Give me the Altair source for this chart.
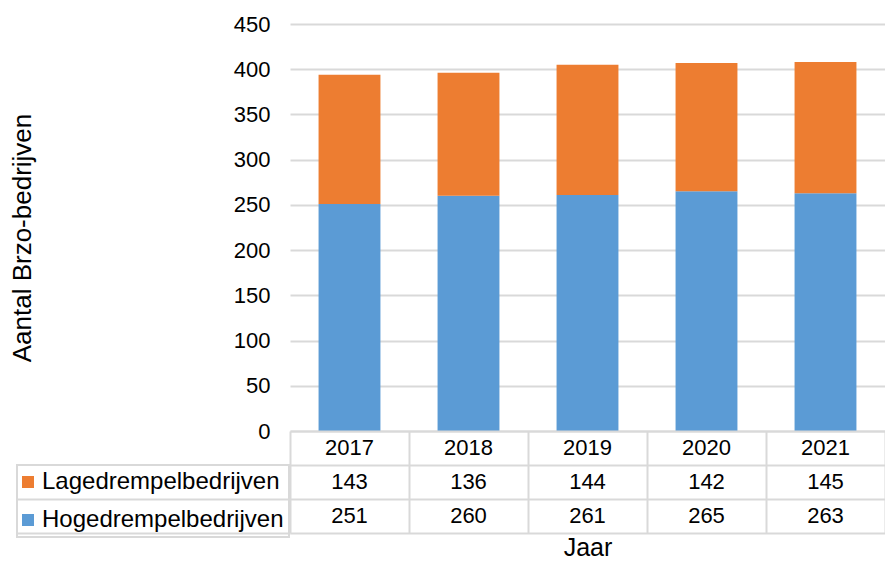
import altair as alt
import pandas as pd

# ---- data ----
years = ["2017", "2018", "2019", "2020", "2021"]
series_low = "Lagedrempelbedrijven"
series_high = "Hogedrempelbedrijven"
low_values = [143, 136, 144, 142, 145]
high_values = [251, 260, 261, 265, 263]
y_ticks = [0, 50, 100, 150, 200, 250, 300, 350, 400, 450]
row_header = "Jaar"
y_title = "Aantal Brzo-bedrijven"
x_title = "Jaar"

# ---- style ----
ORANGE = "#ED7D31"
BLUE = "#5B9BD5"
GRID = "#D9D9D9"
FONT = "Liberation Sans"
W = 595
H = 407
ROW = 34

bars_df = pd.DataFrame({
    "year": years * 2,
    "series": [series_high] * len(years) + [series_low] * len(years),
    "value": high_values + low_values,
    "stack_order": [0] * len(years) + [1] * len(years),
})

bars = alt.Chart(bars_df).mark_bar().encode(
    x=alt.X("year:N", sort=years, axis=None,
            scale=alt.Scale(paddingInner=0.48, paddingOuter=0.24)),
    y=alt.Y("value:Q", stack="zero",
            scale=alt.Scale(domain=[0, 450], nice=False),
            axis=alt.Axis(values=y_ticks, title=y_title,
                          titleFont=FONT, titleFontSize=26, titleFontWeight="normal",
                          titleColor="black", titleAngle=270, titleX=-268, titleY=H / 2 + 10,
                          titleAlign="center", titleBaseline="middle",
                          labelFont=FONT, labelFontSize=22, labelColor="black",
                          labelPadding=20, domain=False, ticks=False,
                          grid=True, gridColor=GRID, gridWidth=2)),
    color=alt.Color("series:N",
                    scale=alt.Scale(domain=[series_low, series_high], range=[ORANGE, BLUE]),
                    legend=alt.Legend(title=None, orient="none", legendX=-273, legendY=H + ROW,
                                      direction="vertical", symbolType="square",
                                      symbolSize=144, symbolStrokeWidth=0, symbolOpacity=1,
                                      symbolOffset=-6,
                                      labelFont=FONT, labelFontSize=24, labelColor="black",
                                      labelOffset={"expr": "2"}, labelLimit=400,
                                      padding=5, rowPadding=14, strokeColor=GRID)),
    order=alt.Order("stack_order:Q", sort="ascending"),
).properties(width=W, height=H)

cell_rows, cell_years, cell_text = [], [], []
for i, yr in enumerate(years):
    cell_rows += [row_header, series_low, series_high]
    cell_years += [yr, yr, yr]
    cell_text += [yr, str(low_values[i]), str(high_values[i])]
table_df = pd.DataFrame({"row": cell_rows, "year": cell_years, "label": cell_text})

tick_test = f"datum.value === '{series_low}' || datum.value === '{series_high}'"

table = alt.Chart(table_df).mark_text(
    font=FONT, fontSize=22, color="black", baseline="middle", align="center"
).encode(
    x=alt.X("year:N", sort=years,
            scale=alt.Scale(paddingInner=0, paddingOuter=0),
            axis=alt.Axis(title=x_title, orient="bottom", labels=False, ticks=False, domain=False,
                          grid=True, gridColor=GRID, gridWidth=2, tickBand="extent",
                          titleFont=FONT, titleFontSize=25, titleFontWeight="normal",
                          titleColor="black", titlePadding=2)),
    y=alt.Y("row:N", sort=[row_header, series_low, series_high],
            scale=alt.Scale(paddingInner=0, paddingOuter=0),
            axis=alt.Axis(title=None, labels=False, domain=False,
                          ticks=True, tickSize=273, tickColor=GRID, tickWidth=2,
                          tickOpacity={"condition": {"test": tick_test, "value": 1}, "value": 0},
                          grid=True, gridColor=GRID, gridWidth=2, tickBand="extent")),
    text="label:N",
).properties(width=W, height=3 * ROW)

chart = alt.vconcat(bars, table, spacing=0, bounds="flush").resolve_scale(
    x="independent", color="independent"
).properties(
    padding={"left": 1, "top": 5, "right": 0, "bottom": 0}
).configure_view(stroke=None).configure_legend(strokeWidth=2)

chart.save("out.html", embed_options={"renderer": "svg", "actions": False})
